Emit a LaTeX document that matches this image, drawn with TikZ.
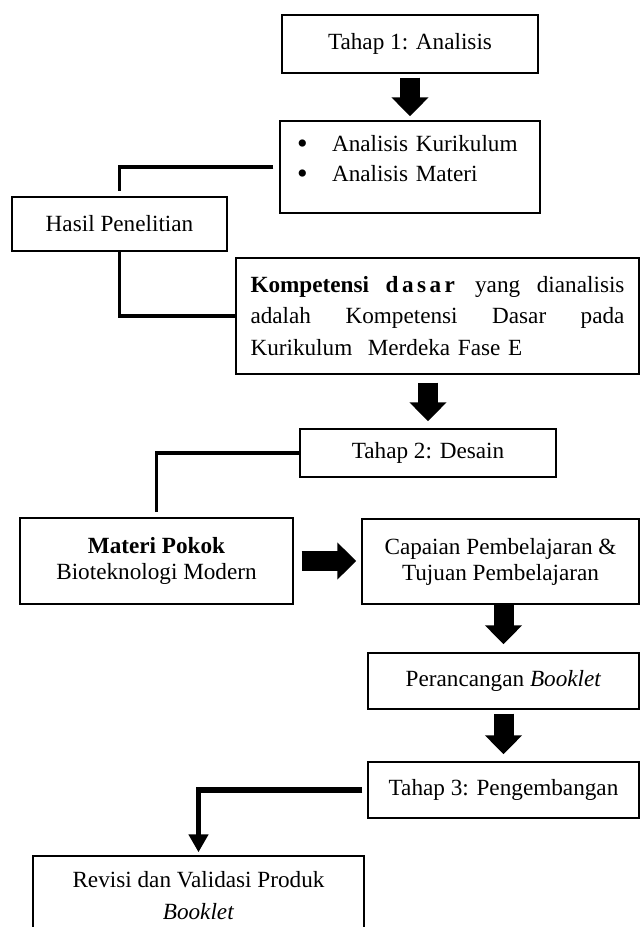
\documentclass[tikz,border=0pt]{standalone}
\usepackage{fontspec}
\setmainfont{Liberation Serif}
\usetikzlibrary{arrows.meta}

\tikzset{
  stageBox/.style={draw, line width=0.7pt, inner sep=1pt,
    font=\fontsize{11.6}{14}\selectfont},
  blockArrow/.style={line width=10pt, -{Triangle[width=18pt,length=9.5pt]}},
  link/.style={line width=1.8pt},
  bigLink/.style={line width=2.6pt, -{Triangle[width=9.5pt,length=9pt]}}
}
\newcommand{\bulletItem}[1]{\makebox[17.5pt][l]{\raisebox{-1.3pt}{\scalebox{1.3}{\textbullet}}}#1}

\begin{document}
\begin{tikzpicture}[x=0.5pt, y=-0.5pt]
  \useasboundingbox (0,0) rectangle (642,927);

  % tahap 1
  \node[stageBox, minimum width=128pt, minimum height=29pt] (tahapSatu) at (410,44)
    {Tahap 1: Analisis};
  \node[stageBox, minimum width=130pt, minimum height=46pt, inner xsep=8.5pt,
    text width=113pt, align=left] (analisis) at (410,167)
    {\begin{tabular}{@{}l@{}}
      \bulletItem{Analisis Kurikulum}\\[1pt]
      \bulletItem{Analisis Materi}\\[6.5pt]
    \end{tabular}};
  \node[stageBox, minimum width=107.5pt, minimum height=27pt] (hasil) at (119.5,224)
    {Hasil Penelitian};
  \node[stageBox, minimum width=201.5pt, minimum height=58pt, inner xsep=7.25pt,
    text width=187pt, align=left, font=\fontsize{11.6}{15.75}\selectfont]
    (kompetensi) at (437.5,316)
    {\makebox[187pt][l]{\textbf{Kompetensi}\hfill\textbf{\addfontfeature{LetterSpace=15}dasar}\hfill yang\hfill dianalisis}\\
     \makebox[187pt][l]{adalah\hfill Kompetensi\hfill Dasar\hfill pada}\\
     Kurikulum\ \ Merdeka Fase E};

  % tahap 2
  \node[stageBox, minimum width=128pt, minimum height=24pt] (tahapDua) at (428,453)
    {Tahap 2: Desain};
  \node[stageBox, minimum width=136.5pt, minimum height=43pt, align=center,
    font=\fontsize{11.6}{13}\selectfont] (materi) at (156.5,561)
    {\textbf{Materi Pokok}\\Bioteknologi Modern};
  \node[stageBox, minimum width=138.5pt, minimum height=42.5pt, align=center,
    font=\fontsize{11.6}{13}\selectfont] (capaian) at (500.5,561.5)
    {Capaian Pembelajaran \&\\Tujuan Pembelajaran};
  \node[stageBox, minimum width=135.5pt, minimum height=28pt] (perancangan) at (503.5,681)
    {Perancangan \textit{Booklet}};

  % tahap 3
  \node[stageBox, minimum width=135.5pt, minimum height=28pt] (tahapTiga) at (503.5,790)
    {Tahap 3: Pengembangan};
  \node[stageBox, minimum width=165.5pt, minimum height=40pt, align=center,
    font=\fontsize{11.6}{16}\selectfont] (revisi) at (198.5,896)
    {Revisi dan Validasi Produk\\\textit{Booklet}};

  % block arrows
  \draw[blockArrow, shorten <=2pt, shorten >=2pt] (tahapSatu) -- (analisis);
  \draw[blockArrow, shorten <=4pt, shorten >=3.5pt] (kompetensi.south -| tahapDua.north) -- (tahapDua.north);
  \draw[blockArrow, shorten <=4pt, shorten >=2.5pt] (materi.east) -- (materi.east -| capaian.west);
  \draw[blockArrow, shorten >=4pt] (capaian.south -| perancangan.north) -- (perancangan.north);
  \draw[blockArrow, shorten <=2pt, shorten >=3.5pt] (perancangan) -- (tahapTiga);

  % links
  \draw[link, shorten <=3pt, shorten >=2.5pt] (analisis.west) -| (hasil.north);
  \draw[link] (hasil.south) |- (kompetensi.west);
  \draw[link, shorten >=2.5pt] (tahapDua.west) -| (materi.north);
  \draw[bigLink, shorten <=2.5pt, shorten >=1.5pt] (tahapTiga.west) -| (revisi.north);
\end{tikzpicture}
\end{document}
